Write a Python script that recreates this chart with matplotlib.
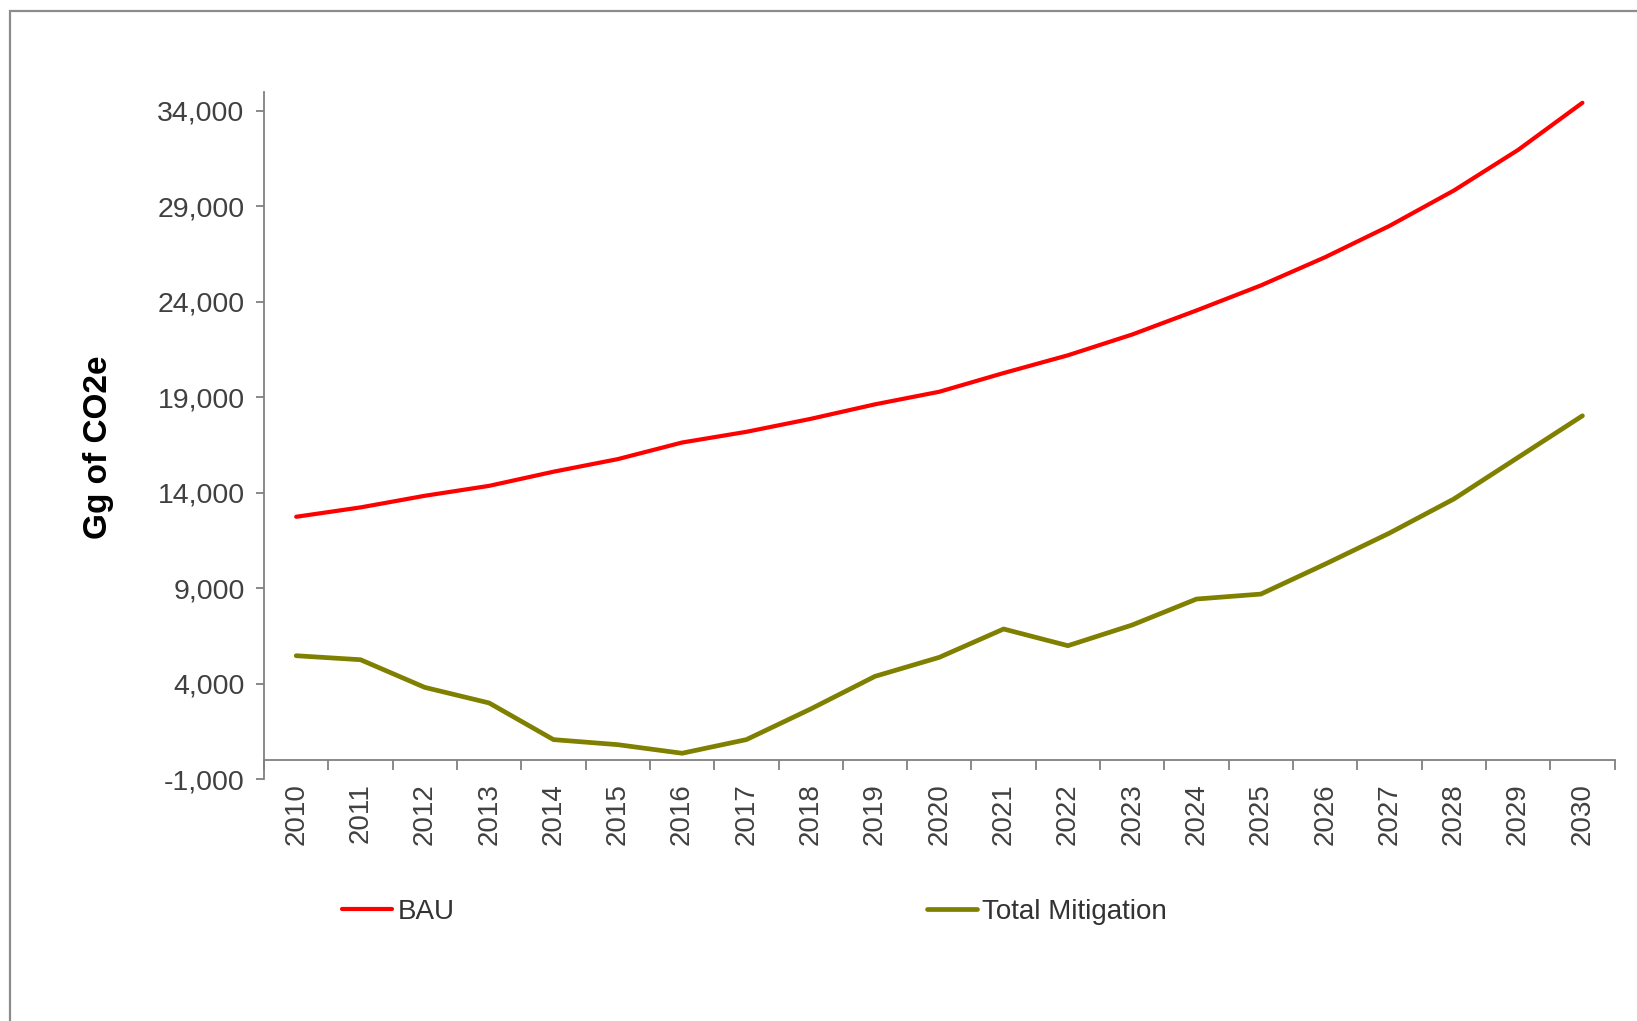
import matplotlib
matplotlib.use("Agg")
import matplotlib.pyplot as plt
from matplotlib.patches import Rectangle
from matplotlib.ticker import FuncFormatter, FixedLocator
import numpy as np

plt.rcParams['font.family'] = ['Liberation Sans', 'DejaVu Sans']

# emissions in Gg of CO2e, 2010-2030
years = list(range(2010, 2031))
bau = [12740, 13230, 13840, 14360, 15100, 15760, 16630, 17190, 17870, 18630,
       19290, 20270, 21200, 22290, 23550, 24860, 26340, 27980, 29830, 31960, 34430]
mitigation = [5460, 5250, 3800, 2985, 1065, 800, 350, 1065, 2670, 4380,
              5375, 6860, 5985, 7070, 8430, 8690, 10260, 11885, 13670, 15850, 18030]
y_ticks = [-1000, 4000, 9000, 14000, 19000, 24000, 29000, 34000]

fig = plt.figure(figsize=(16.37, 10.21), dpi=100)
ax = fig.add_axes([0.1613, 0.237, 0.825, 0.673])

x = np.arange(len(years))
ax.plot(x, bau, color='#FF0000', lw=3.0, label='BAU', solid_capstyle='round')
ax.plot(x, mitigation, color='#808000', lw=3.4, label='Total Mitigation', solid_capstyle='round')

ax.set_xlim(-0.5, len(years) - 0.5)
ax.set_ylim(-1000, 35000)

grey = '#808080'
for side in ['top', 'right']:
    ax.spines[side].set_visible(False)
ax.spines['left'].set_color(grey)
ax.spines['bottom'].set_color(grey)
ax.spines['left'].set_linewidth(1.3)
ax.spines['bottom'].set_linewidth(1.3)
ax.spines['bottom'].set_position(('data', 0))

# category axis: tick marks between years, labels centred
ax.xaxis.set_major_locator(FixedLocator(np.arange(-0.5, len(years), 1.0)))
ax.xaxis.set_major_formatter(FuncFormatter(lambda v, p: ''))
ax.set_xticks(x, [str(y) for y in years], minor=True)
ax.tick_params(axis='x', which='major', direction='out', length=7, width=1.3, color=grey)
ax.tick_params(axis='x', which='minor', length=0, pad=17, labelsize=20,
               labelcolor='#404040', labelrotation=90)

ax.set_yticks(y_ticks)
ax.yaxis.set_major_formatter(FuncFormatter(lambda v, p: f'{int(v):,}'))
ax.tick_params(axis='y', direction='out', length=6, width=1.3, color=grey,
               labelsize=20.5, labelcolor='#404040', pad=8)

ax.set_ylabel('Gg of CO2e', fontsize=24, fontweight='bold', labelpad=31)
ax.yaxis.label.set_y(0.483)

fig.legend(loc='center left', bbox_to_anchor=(0.1935, 0.107), ncol=2, frameon=False,
           fontsize=20, handlelength=1.8, handletextpad=0.2, columnspacing=17.0,
           labelcolor='#333333')

# outer chart frame
fig.patches.append(Rectangle((0.0064, -0.05), 1.1, 0.0397 + 1.0, transform=fig.transFigure,
                             fill=False, edgecolor='#8c8c8c', lw=1.6, clip_on=False))

fig.savefig('out.png', dpi=100)
